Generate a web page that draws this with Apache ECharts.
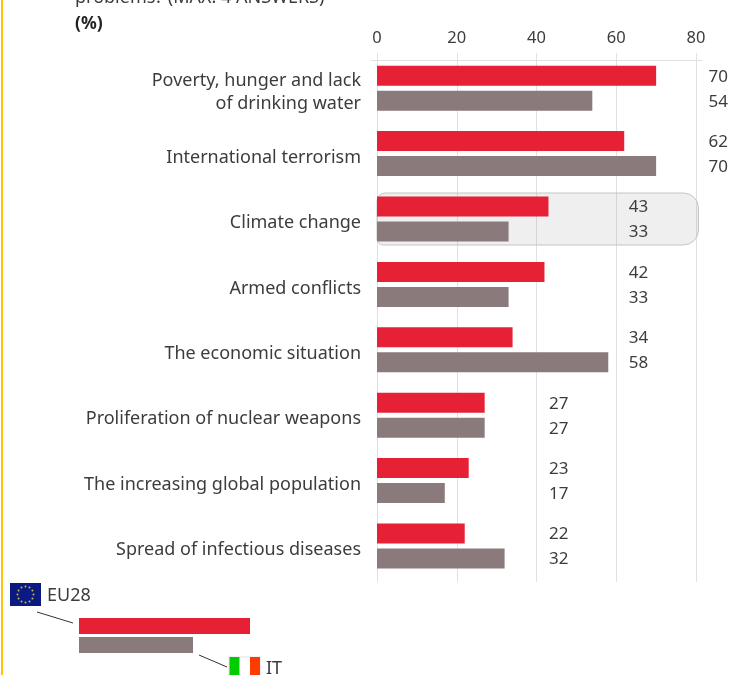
<!DOCTYPE html>
<html>
<head>
<meta charset="utf-8">
<style>
html,body{margin:0;padding:0;background:#fff}
#main{width:732px;height:675px}
</style>
<script src="https://cdn.jsdelivr.net/npm/echarts@6/dist/echarts.min.js"></script>
</head>
<body>
<div id="main"></div>
<script>
var categories = [
  'Poverty, hunger and lack\nof drinking water',
  'International terrorism',
  'Climate change',
  'Armed conflicts',
  'The economic situation',
  'Proliferation of nuclear weapons',
  'The increasing global population',
  'Spread of infectious diseases'
];
var eu28 = [70, 62, 43, 42, 34, 27, 23, 22];
var italy = [54, 70, 33, 33, 58, 27, 17, 32];

var RED = '#e62136', GREY = '#8a7a7c', TEXT = '#3c3c3c', LINE = '#e2e0e0';
var FONT = '"Noto Sans", sans-serif';

// value labels sit just past the next gridline of the longer bar
function padding(values) {
  return values.map(function (v, i) {
    return Math.ceil(Math.max(eu28[i], italy[i]) / 20) * 20 - v;
  });
}
function valueLabel(values) {
  return {
    show: true, position: 'right', distance: 12.5, offset: [0, 1], color: TEXT, fontSize: 17, fontFamily: FONT,
    formatter: function (p) { return values[p.dataIndex]; }
  };
}

var chart = echarts.init(document.getElementById('main'));

var flagStars = [];
for (var s = 0; s < 12; s++) {
  var a = s * Math.PI / 6;
  flagStars.push({
    type: 'circle',
    shape: { cx: 25.5 + 8 * Math.cos(a), cy: 594.5 + 8 * Math.sin(a), r: 1 },
    style: { fill: '#c9b93c' }
  });
}

chart.setOption({
  animation: false,
  title: [
    { text: 'problems? (MAX. 4 ANSWERS)', left: 70, top: -16, textStyle: { fontSize: 18, fontWeight: 'normal', color: TEXT, fontFamily: FONT } },
    { text: '(%)', left: 70, top: 10, textStyle: { fontSize: 17.5, fontWeight: 'bold', color: '#222', fontFamily: FONT } }
  ],
  // bars, gridlines (a little taller than the bars), category labels (sit slightly below the bars)
  grid: [
    { left: 377, width: 319, top: 55.5, height: 523.2 },
    { left: 377, width: 319, top: 53, height: 529 },
    { left: 377, width: 319, top: 59.5, height: 523.2 }
  ],
  xAxis: [
    { gridIndex: 0, type: 'value', min: 0, max: 80, interval: 20, show: false },
    {
      gridIndex: 1, type: 'value', min: 0, max: 80, interval: 20, position: 'top',
      axisLine: { show: false }, axisTick: { show: false },
      axisLabel: { color: TEXT, fontSize: 16.5, fontFamily: FONT, margin: 6 },
      splitLine: { show: true, lineStyle: { color: LINE, width: 1 } }
    },
    { gridIndex: 2, type: 'value', min: 0, max: 80, interval: 20, show: false }
  ],
  yAxis: [
    { gridIndex: 0, type: 'category', inverse: true, data: categories, show: false },
    { gridIndex: 1, type: 'category', show: false, data: categories },
    {
      gridIndex: 2, type: 'category', inverse: true, data: categories,
      axisLine: { show: false }, axisTick: { show: false },
      axisLabel: { color: TEXT, fontSize: 18, lineHeight: 23, fontFamily: FONT, margin: 16, align: 'right' }
    }
  ],
  series: [
    { name: 'EU28', type: 'bar', stack: 'eu', barWidth: 20, barGap: '25%', data: eu28, itemStyle: { color: RED }, silent: true },
    { name: 'EU28 label', type: 'bar', stack: 'eu', data: padding(eu28), itemStyle: { color: 'transparent' }, label: valueLabel(eu28), silent: true },
    { name: 'IT', type: 'bar', stack: 'it', barWidth: 20, data: italy, itemStyle: { color: GREY }, silent: true },
    { name: 'IT label', type: 'bar', stack: 'it', data: padding(italy), itemStyle: { color: 'transparent' }, label: valueLabel(italy), silent: true }
  ]
});

// frame around the highlighted category and the rest of the annotation, placed from the scales
var x0 = chart.convertToPixel({ xAxisIndex: 0 }, 0);
var x80 = chart.convertToPixel({ xAxisIndex: 0 }, 80);
var yClimate = chart.convertToPixel({ yAxisIndex: 0 }, categories[2]);

chart.setOption({
  graphic: [
    { type: 'rect', silent: true, z: 1, shape: { x: x0, y: yClimate - 26, width: x80 - x0 + 2.5, height: 52, r: [8, 15, 15, 6] },
      style: { fill: 'rgba(120,120,120,0.12)', stroke: '#c9c2c3', lineWidth: 1 } },
    { type: 'line', silent: true, z: 1, shape: { x1: 371, y1: 60.5, x2: 702, y2: 60.5 }, style: { stroke: LINE, lineWidth: 1 } },
    { type: 'rect', silent: true, shape: { x: 1, y: 0, width: 2, height: 675 }, style: { fill: '#ffc20e' } },

    { type: 'rect', silent: true, shape: { x: 10, y: 583, width: 31, height: 23 }, style: { fill: '#0b1a80' } },
    { type: 'group', silent: true, z: 3, children: flagStars },
    { type: 'text', silent: true, style: { x: 47, y: 596, text: 'EU28', fill: TEXT, font: '18px ' + FONT, verticalAlign: 'middle' } },
    { type: 'line', silent: true, shape: { x1: 37, y1: 612, x2: 73, y2: 623 }, style: { stroke: '#333', lineWidth: 1 } },
    { type: 'rect', silent: true, shape: { x: 79, y: 618, width: 171, height: 16 }, style: { fill: RED } },
    { type: 'rect', silent: true, shape: { x: 79, y: 637, width: 114, height: 16 }, style: { fill: GREY } },
    { type: 'line', silent: true, shape: { x1: 199, y1: 655, x2: 227, y2: 667 }, style: { stroke: '#333', lineWidth: 1 } },
    { type: 'rect', silent: true, shape: { x: 229, y: 657, width: 31, height: 23 }, style: { fill: '#fff', stroke: '#e4e0e0', lineWidth: 1 } },
    { type: 'rect', silent: true, shape: { x: 229.5, y: 657, width: 10, height: 18 }, style: { fill: '#00cc00' } },
    { type: 'rect', silent: true, shape: { x: 250, y: 657, width: 10, height: 18 }, style: { fill: '#ff3c00' } },
    { type: 'text', silent: true, style: { x: 266, y: 669, text: 'IT', fill: TEXT, font: '18px ' + FONT, verticalAlign: 'middle' } }
  ]
});
</script>
</body>
</html>
